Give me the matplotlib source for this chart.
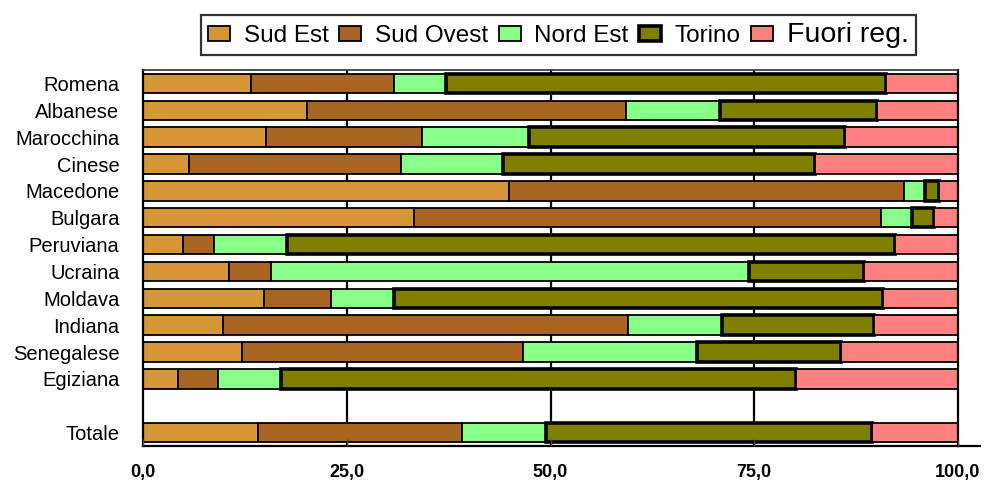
import matplotlib.pyplot as plt
import numpy as np

plt.rcParams["font.family"] = ["Liberation Sans", "DejaVu Sans"]

categories = ["Romena", "Albanese", "Marocchina", "Cinese", "Macedone", "Bulgara",
              "Peruviana", "Ucraina", "Moldava", "Indiana", "Senegalese", "Egiziana",
              "Totale"]
series = ["Sud Est", "Sud Ovest", "Nord Est", "Torino", "Fuori reg."]

sud_est = [13.3, 20.1, 15.1, 5.6, 44.9, 33.2, 4.9, 10.6, 14.9, 9.8, 12.2, 4.3, 14.1]
sud_ovest = [17.5, 39.2, 19.1, 26.1, 48.5, 57.4, 3.8, 5.1, 8.2, 49.7, 34.4, 4.9, 25.1]
nord_est = [6.4, 11.5, 13.2, 12.5, 2.5, 3.8, 9.0, 58.7, 7.7, 11.6, 21.4, 7.7, 10.3]
torino = [54.0, 19.3, 38.7, 38.2, 1.8, 2.7, 74.6, 14.1, 60.0, 18.6, 17.7, 63.2, 40.0]
fuori_reg = [8.8, 9.9, 13.9, 17.6, 2.3, 2.9, 7.7, 11.5, 9.2, 10.3, 14.3, 19.9, 10.5]

colors = ["#D69636", "#A86522", "#88FF88", "#808000", "#FF8080"]
xticks = [0, 25, 50, 75, 100]
xtick_labels = ["0,0", "25,0", "50,0", "75,0", "100,0"]

values = [sud_est, sud_ovest, nord_est, torino, fuori_reg]

fig = plt.figure(figsize=(9.84, 4.8), dpi=100)
ax = fig.add_axes([143 / 984, 1 - 446 / 480, (958 - 143) / 984, (446 - 70) / 480])

# rows top to bottom, blank slot before "Totale"
ypos = np.arange(len(categories), dtype=float)
ypos[-1] += 1

left = np.zeros(len(categories))
handles = []
for name, vals, col in zip(series, values, colors):
    lw = 2.6 if name == "Torino" else 1.3
    b = ax.barh(ypos, vals, left=left, height=0.72, color=col,
                edgecolor="black", linewidth=lw, label=name, zorder=2)
    handles.append(b)
    left += np.array(vals)

for x in [25, 50, 75]:
    ax.axvline(x, color="black", lw=1.6, zorder=0.5)

ax.set_xlim(0, 100)
ax.set_ylim(ypos[-1] + 0.5, -0.5)
ax.set_yticks(ypos)
ax.set_yticklabels(categories, fontsize=14.5)
ax.tick_params(axis="y", length=0, pad=17)
ax.set_xticks(xticks)
ax.set_xticklabels(xtick_labels, fontsize=13, fontweight="bold")
ax.tick_params(axis="x", direction="in", length=5, width=1, color="#444444", pad=13)
ax.set_axisbelow(False)

for s in ["left", "right", "bottom"]:
    ax.spines[s].set_linewidth(1.6)
ax.spines["top"].set_color("#333333")
ax.spines["top"].set_linewidth(1.2)
ax.plot([1, 1.027], [0, 0], transform=ax.transAxes, color="black", lw=1.6, clip_on=False)

leg = fig.legend(handles=handles, labels=series, loc="center",
                 bbox_to_anchor=(558.5 / 984, 1 - 35 / 480), ncol=5,
                 fontsize=17.5, frameon=True, fancybox=False, edgecolor="black",
                 handlelength=0.9, handleheight=0.58, handletextpad=0.55,
                 columnspacing=0.45, borderpad=0.3, borderaxespad=0)
leg.get_frame().set_linewidth(1.6)
leg.get_texts()[4].set_fontsize(20.5)

fig.savefig("out.png", dpi=100)
